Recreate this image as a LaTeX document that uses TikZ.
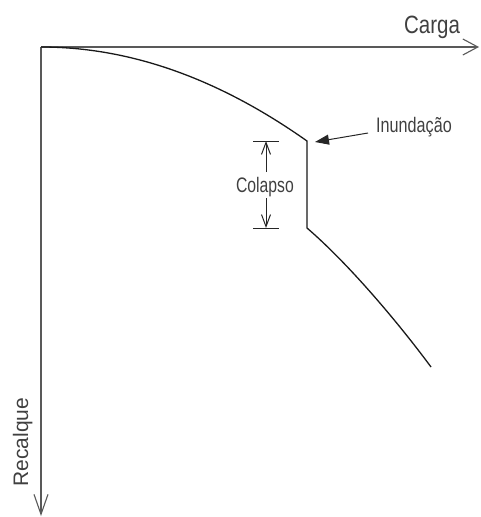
\documentclass[tikz,border=0pt]{standalone}
\usepackage{fontspec}
\usepackage{graphicx}
\setmainfont{Liberation Sans}
\usetikzlibrary{arrows.meta}
\tikzset{
  axis/.style={line width=1.2pt, draw=black!65, -{Straight Barb[length=15pt,width=16pt,line width=1.1pt]}},
  curve/.style={line width=1.3pt, draw=black!90},
  dimline/.style={line width=1pt, draw=black!85},
  dimtip/.style={-{Straight Barb[length=12pt,width=9pt,line width=1pt]}},
  lbl/.style={inner sep=0pt, text=black!75, font=\fontsize{21}{21}\selectfont},
}
\begin{document}
\begin{tikzpicture}[x=1pt,y=-1pt]
\useasboundingbox (0,0) rectangle (480,517);
% axes
\coordinate (O) at (41,47);
\coordinate (Xend) at (479,47);
\coordinate (Yend) at (41,516);
\draw[axis] (O) -- (Xend);
\draw[axis,-{Straight Barb[length=20pt,width=14pt,line width=1.1pt]}] (O) -- (Yend);
\node[lbl, anchor=base, font=\fontsize{25}{25}\selectfont] (carga) at (432,33) {\scalebox{0.82}[1]{Carga}};
\node[lbl, anchor=base, rotate=90] (recalque) at (28,442) {\scalebox{1.0}[1]{Recalque}};
% curve
\coordinate (A) at (307,141);
\coordinate (B) at (307,228);
\coordinate (C) at (431,367);
\draw[curve] (O) .. controls (129.7,47) and (218.3,78.3) .. (A) -- (B) .. controls (350,265) and (400,325) .. (C);
% inundacao
\node[lbl, anchor=base] (inund) at (414,132) {\scalebox{0.77}[1]{Inundação}};
\coordinate (inS) at (368,133);
\coordinate (inT) at (315,142);
\draw[dimline, -{Triangle[length=14pt,width=10pt]}] (inS) -- (inT);
% colapso dimension
\coordinate (t1L) at (253,141);
\coordinate (t1R) at (279,141);
\coordinate (t2L) at (253,228);
\coordinate (t2R) at (279,228);
\draw[dimline] (t1L) -- (t1R);
\draw[dimline] (t2L) -- (t2R);
\node[lbl, anchor=base] (colapso) at (265,192) {\scalebox{0.75}[1]{Colapso}};
\coordinate (d1) at (266,141);
\coordinate (d1e) at (266,172);
\coordinate (d2) at (266,228);
\coordinate (d2e) at (266,198);
\draw[dimline, dimtip] (d1e) -- (d1);
\draw[dimline, dimtip] (d2e) -- (d2);
\end{tikzpicture}
\end{document}
